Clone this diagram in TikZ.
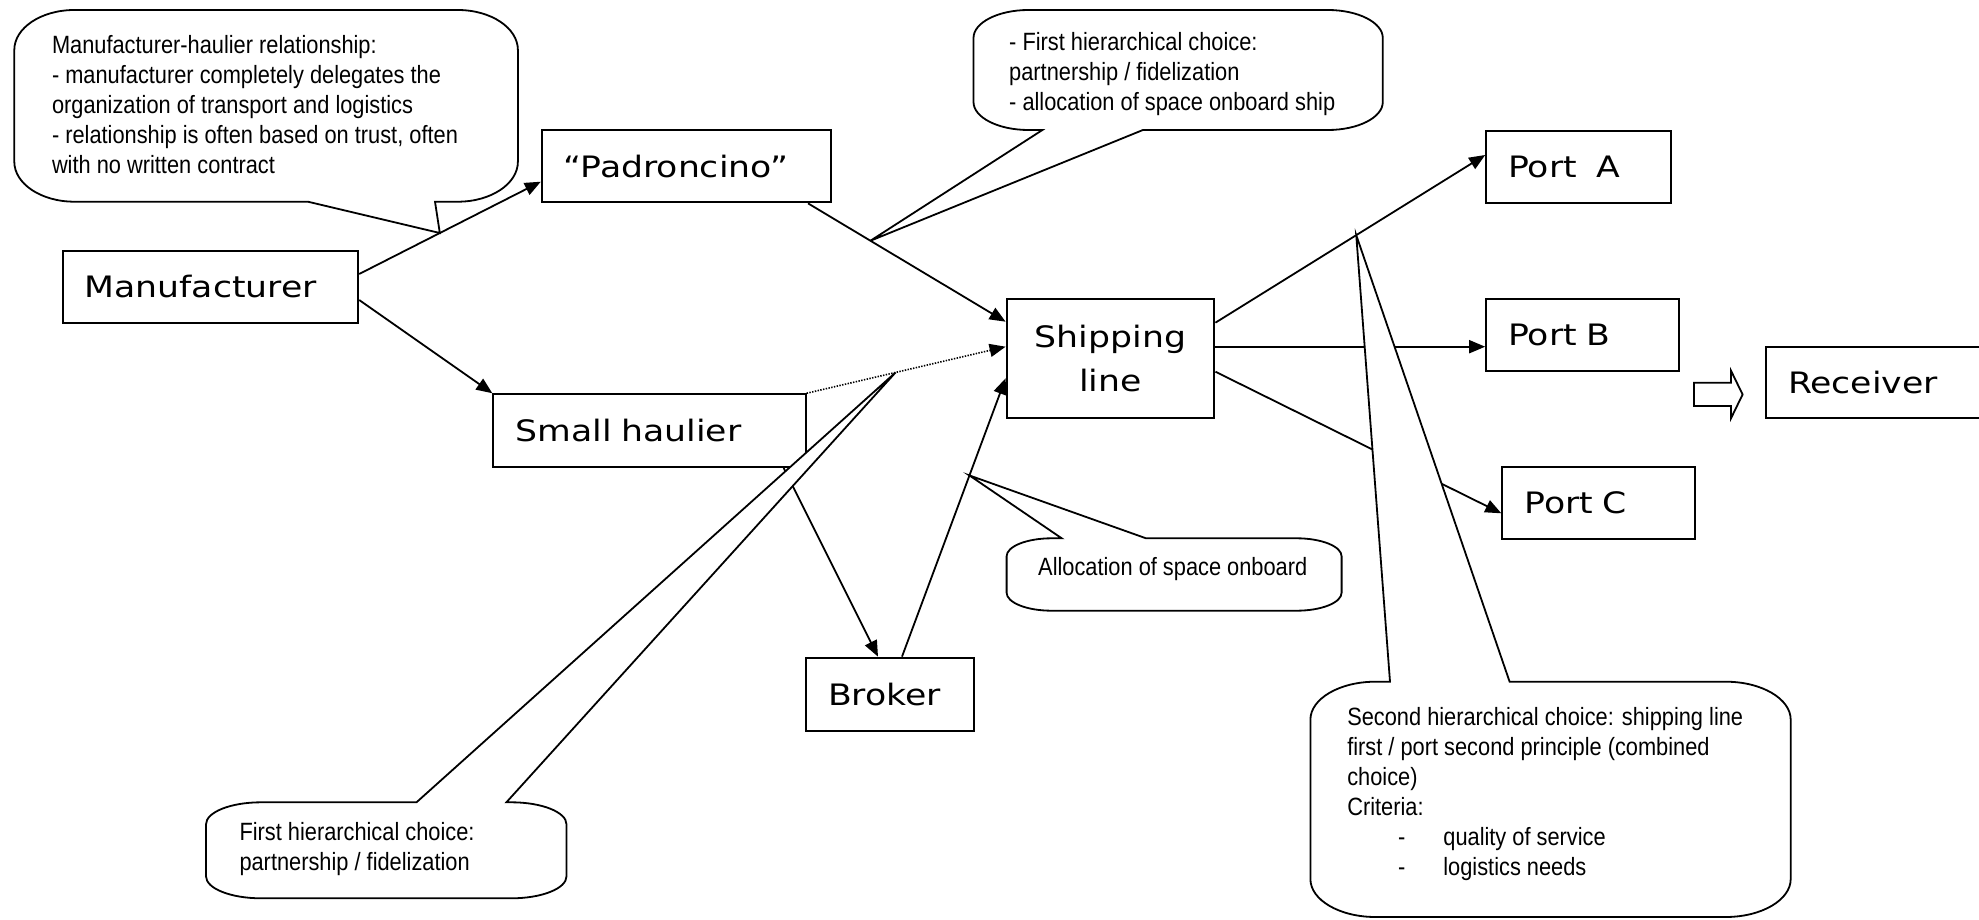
\documentclass[tikz,border=0pt]{standalone}
\usepackage{fontspec}
\usetikzlibrary{arrows.meta,calc}
\newfontfamily\boxfont[FakeStretch=1.175]{DejaVu Sans}
\newfontfamily\callfont[FakeStretch=0.872]{Liberation Sans}
% callout with tail on the bottom edge
\newcommand\calloutB[9]{%
 \filldraw[callout] (#1,#2+#6) .. controls (#1,#2+0.448*#6) and (#1+0.448*#5,#2) .. (#1+#5,#2)
  -- (#3-#5,#2) .. controls (#3-0.448*#5,#2) and (#3,#2+0.448*#6) .. (#3,#2+#6)
  -- (#3,#4-#6) .. controls (#3,#4-0.448*#6) and (#3-0.448*#5,#4) .. (#3-#5,#4)
  -- (#8,#4) -- (#9) -- (#7,#4)
  -- (#1+#5,#4) .. controls (#1+0.448*#5,#4) and (#1,#4-0.448*#6) .. (#1,#4-#6) -- cycle;}
% callout with tail on the top edge
\newcommand\calloutT[9]{%
 \filldraw[callout] (#1,#2+#6) .. controls (#1,#2+0.448*#6) and (#1+0.448*#5,#2) .. (#1+#5,#2)
  -- (#7,#2) -- (#9) -- (#8,#2)
  -- (#3-#5,#2) .. controls (#3-0.448*#5,#2) and (#3,#2+0.448*#6) .. (#3,#2+#6)
  -- (#3,#4-#6) .. controls (#3,#4-0.448*#6) and (#3-0.448*#5,#4) .. (#3-#5,#4)
  -- (#1+#5,#4) .. controls (#1+0.448*#5,#4) and (#1,#4-0.448*#6) .. (#1,#4-#6) -- cycle;}
\begin{document}
\begin{tikzpicture}[x=1pt,y=-1pt,
  box/.style={draw, line width=2pt, inner xsep=22pt, inner ysep=0pt, align=left,
    font=\boxfont\fontsize{29.5}{44}\selectfont},
  conn/.style={line width=1.8pt, -{Triangle[length=16pt,width=13pt]}},
  dotconn/.style={line width=1.6pt, dash pattern=on 1.4pt off 1.4pt, -{Triangle[length=16pt,width=13pt]}},
  callout/.style={line width=1.8pt, line join=miter, draw=black, fill=white},
  ctext/.style={inner sep=0pt, align=left, anchor=north west,
    font=\callfont\fontsize{25}{30}\selectfont},
  hollow/.style={line width=1.8pt, line join=miter}]
\path[use as bounding box] (0,0) rectangle (1979,920);
\clip (0,0) rectangle (1979,920);
\fill[white] (0,0) rectangle (1979,920);

% boxes
\node[box, minimum width=295.7pt, text width=251.7pt, minimum height=72pt] (mfr) at (210.35,286.7) {Manufacturer};
\node[box, minimum width=288.8pt, text width=244.8pt, minimum height=72.3pt] (pad) at (686.2,166.2) {“Padroncino”};
\node[box, minimum width=312.3pt, text width=268.3pt, minimum height=72.7pt] (small) at (649.5,430.6) {Small haulier};
\node[box, minimum width=207.8pt, text width=163.8pt, minimum height=119.6pt, align=center] (ship) at (1110.5,358.5) {Shipping\\line};
\node[box, minimum width=168.2pt, text width=124.2pt, minimum height=73.3pt] (broker) at (890.3,694.3) {Broker};
\node[box, minimum width=185pt, text width=141pt, minimum height=72pt] (portA) at (1578.7,166.7) {Port~~A};
\node[box, minimum width=193.2pt, text width=149.2pt, minimum height=72pt] (portB) at (1582.8,334.7) {Port B};
\node[box, minimum width=192.2pt, text width=148.2pt, minimum height=72pt] (portC) at (1598.4,502.7) {Port C};
\node[box, minimum width=234pt, text width=190pt, minimum height=71.6pt] (recv) at (1883,382.5) {Receiver};

% connector end points
\coordinate (m1) at ($(mfr.east)+(0,-12.7)$);
\coordinate (p1) at ($(pad.west)+(0,15.5)$);
\coordinate (m2) at ($(mfr.east)+(0,13.3)$);
\coordinate (p2) at ($(pad.south east)+(-23.6,0)$);
\coordinate (s1) at ($(ship.west)+(0,-36.8)$);
\coordinate (s2) at ($(ship.west)+(0,-11.8)$);
\coordinate (h1) at ($(small.south east)+(-23,0)$);
\coordinate (b1) at ($(broker.north)+(-12.3,0)$);
\coordinate (b2) at ($(broker.north)+(11.7,0)$);
\coordinate (s3) at ($(ship.west)+(0,19.8)$);
\coordinate (e1) at ($(ship.east)+(0,-35.8)$);
\coordinate (a1) at ($(portA.west)+(0,-11.7)$);
\coordinate (e2) at ($(ship.east)+(0,-11.8)$);
\coordinate (bB) at ($(portB.west)+(0,12)$);
\coordinate (e3) at ($(ship.east)+(0,13.2)$);
\coordinate (c1) at ($(portC.west)+(0,10.6)$);

% connectors
\draw[conn] (m1) -- (p1);
\draw[conn] (m2) -- (small.north west);
\draw[conn] (p2) -- (s1);
\draw[dotconn] (small.north east) -- (s2);
\draw[conn] (h1) -- (b1);
\draw[conn] (b2) -- (s3);
\draw[conn] (e1) -- (a1);
\draw[conn] (e2) -- (bB);
\draw[conn] (e3) -- (c1);

% callout tips
\coordinate (t1) at ($(m1)!0.444!(p1)$);
\coordinate (t2) at ($(p2)!0.316!(s1)$);
\coordinate (t3) at ($(b2)!0.651!(s3)$);
\coordinate (t4) at ($(small.north east)!0.447!(s2)$);
\coordinate (t5) at ($(e1)!0.522!(a1)$);

% callouts (white-filled, drawn over the connectors)
\calloutB{14.3}{10}{517.9}{201.7}{60}{40}{307.9}{435}{t1}
\calloutB{973.5}{10}{1382.8}{130}{55}{28}{1042.4}{1142.9}{t2}
\calloutT{1006.6}{538.3}{1341.6}{610.7}{45}{18}{1061.7}{1146}{t3}
\calloutT{206}{802.3}{566.5}{898.3}{55}{22}{416.5}{506.4}{t4}
\calloutT{1310.4}{681.7}{1790.7}{917}{65}{38}{1390}{1509.6}{t5}

\node[ctext] (c1text) at (51.8,35) {Manufacturer-haulier relationship:\\- manufacturer completely delegates the\\organization of transport and logistics\\- relationship is often based on trust, often\\with no written contract};
\node[ctext] (c2text) at (1009,32.4) {- First hierarchical choice:\\partnership / fidelization\\- allocation of space onboard ship};
\node[ctext] (c3text) at (1038,556.7) {Allocation of space onboard};
\node[ctext] (c4text) at (239.3,822.4) {First hierarchical choice:\\partnership / fidelization};
\node[ctext] (c5text) at (1347.1,707.4) {Second hierarchical choice: shipping line\\first / port second principle (combined\\choice)\\Criteria:\\\hbox to 96.1pt{\hspace*{50.8pt}-\hfil}quality of service\\\hbox to 96.1pt{\hspace*{50.8pt}-\hfil}logistics needs};

% hollow block arrow
\draw[hollow] (1694,382.7) -- (1731,382.7) -- (1731,370.7) -- (1742.6,394.5) -- (1731,418.3) -- (1731,406) -- (1694,406) -- cycle;
\end{tikzpicture}
\end{document}
